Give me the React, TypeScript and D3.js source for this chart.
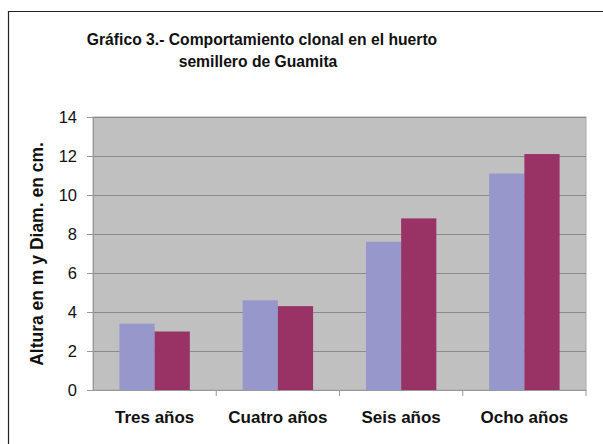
import * as d3 from 'd3';
import React, { useEffect, useRef } from 'react';

const categories = ['Tres años', 'Cuatro años', 'Seis años', 'Ocho años'];
const alturaValues = [3.4, 4.6, 7.6, 11.1];
const diametroValues = [3.0, 4.3, 8.8, 12.1];
const yTicks = [0, 2, 4, 6, 8, 10, 12, 14];
const titleLines = ['Gráfico 3.- Comportamiento clonal en el huerto', 'semillero de Guamita'];
const yAxisTitle = 'Altura en m y Diam. en cm.';

const seriesColors = ['#9797cc', '#993366'];

const App: React.FC = () => {
  const svgRef = useRef<SVGSVGElement>(null);

  useEffect(() => {
    if (!svgRef.current) return;
    const width = 603;
    const height = 444;
    const font = 'Arial, "Liberation Sans", sans-serif';

    d3.select(svgRef.current).selectAll('*').remove();
    const svg = d3.select(svgRef.current)
      .attr('width', width)
      .attr('height', height)
      .style('font-family', font);

    svg.append('rect')
      .attr('width', width)
      .attr('height', height)
      .attr('fill', '#ffffff');

    // Outer chart frame (only left and top edges are in view)
    svg.append('path')
      .attr('d', `M8.5,${height} V11.5 H${width}`)
      .attr('fill', 'none')
      .attr('stroke', '#222')
      .attr('stroke-width', 1.2);

    // Title
    const title = svg.append('text')
      .attr('text-anchor', 'middle')
      .style('font-size', '15.7px')
      .style('font-weight', 'bold')
      .attr('fill', '#111');
    titleLines.forEach((line, i) => {
      title.append('tspan')
        .attr('x', i === 0 ? 262 : 258)
        .attr('y', 45 + i * 22)
        .text(line);
    });

    const margin = { top: 117, right: 17, bottom: 54, left: 93 };
    const innerWidth = width - margin.left - margin.right;
    const innerHeight = height - margin.top - margin.bottom;

    const g = svg.append('g')
      .attr('transform', `translate(${margin.left},${margin.top})`);

    const xScale = d3.scaleBand<string>()
      .domain(categories)
      .range([0, innerWidth]);

    const yScale = d3.scaleLinear()
      .domain([0, 14])
      .range([innerHeight, 0]);

    // Plot area background
    g.append('rect')
      .attr('width', innerWidth)
      .attr('height', innerHeight)
      .attr('fill', '#c0c0c0')
      .attr('stroke', '#a8a8a8')
      .attr('stroke-width', 1);

    // Grid lines
    g.append('g')
      .selectAll('line')
      .data(yTicks.filter(t => t > 0))
      .join('line')
      .attr('x1', 0)
      .attr('x2', innerWidth)
      .attr('y1', d => Math.round(yScale(d)) + 0.5)
      .attr('y2', d => Math.round(yScale(d)) + 0.5)
      .attr('stroke', '#8a8a8a')
      .attr('stroke-width', 1);

    // Bars: gap width 150% -> group = 2 / 3.5 of the category band
    const groupWidth = xScale.bandwidth() * 2 / 3.5;
    const x1 = d3.scaleBand<number>()
      .domain([0, 1])
      .range([0, groupWidth]);

    const seriesData = [alturaValues, diametroValues];
    categories.forEach((cat, ci) => {
      const gx = (xScale(cat) || 0) + (xScale.bandwidth() - groupWidth) / 2;
      seriesData.forEach((values, si) => {
        g.append('rect')
          .attr('x', gx + (x1(si) || 0))
          .attr('y', yScale(values[ci]))
          .attr('width', x1.bandwidth())
          .attr('height', innerHeight - yScale(values[ci]))
          .attr('fill', seriesColors[si]);
      });
    });

    // Y axis
    const yAxis = d3.axisLeft(yScale)
      .tickValues(yTicks)
      .tickSize(6)
      .tickPadding(10)
      .tickFormat(d => String(d));

    const yG = g.append('g').call(yAxis);
    yG.select('.domain').attr('stroke', '#999');
    yG.selectAll('.tick line').attr('stroke', '#999');
    yG.selectAll('.tick text')
      .style('font-size', '16.5px')
      .style('font-family', font)
      .attr('fill', '#111');

    // X axis
    const xAxis = d3.axisBottom(xScale)
      .tickSize(0)
      .tickPadding(21);
    const xG = g.append('g')
      .attr('transform', `translate(0,${innerHeight})`)
      .call(xAxis);
    xG.select('.domain').attr('stroke', '#999');
    xG.selectAll('.tick text')
      .style('font-size', '17px')
      .style('font-weight', 'bold')
      .style('font-family', font)
      .attr('fill', '#111');

    // Category separator ticks
    xG.append('g')
      .selectAll('line')
      .data(categories.slice(1).concat(['__end']))
      .join('line')
      .attr('x1', d => d === '__end' ? innerWidth : (xScale(d) || 0))
      .attr('x2', d => d === '__end' ? innerWidth : (xScale(d) || 0))
      .attr('y1', 0)
      .attr('y2', 6)
      .attr('stroke', '#999');

    // Y axis title
    svg.append('text')
      .attr('transform', `translate(43,254) rotate(-90)`)
      .attr('text-anchor', 'middle')
      .style('font-size', '17.5px')
      .style('font-weight', 'bold')
      .attr('fill', '#111')
      .text(yAxisTitle);
  }, []);

  return (
    <div style={{ position: 'absolute', left: 0, top: 0 }}>
      <svg ref={svgRef} style={{ display: 'block' }} />
    </div>
  );
};

export default App;
